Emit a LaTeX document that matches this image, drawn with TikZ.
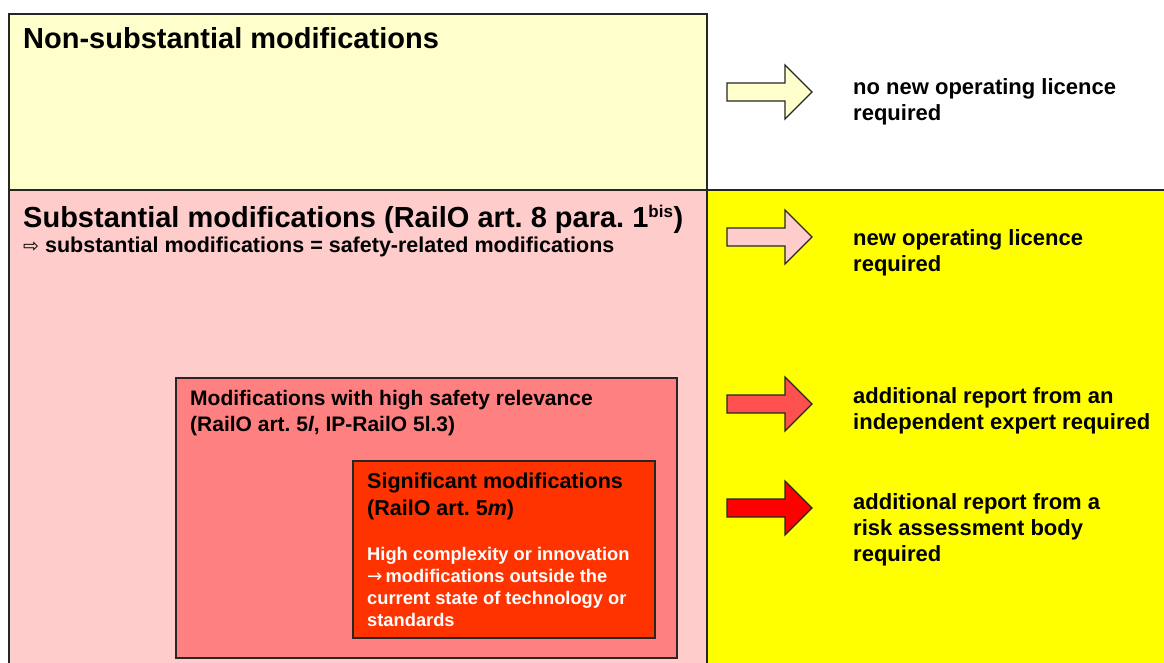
\documentclass[tikz,border=0pt]{standalone}
\usepackage{fontspec}
\setmainfont{Liberation Sans}
\newfontfamily\arrowfont{DejaVu Sans}
\usepackage{xcolor}
\usepackage{tikz}

\definecolor{paleyellow}{HTML}{FFFFCC}
\definecolor{palepink}{HTML}{FFCCCC}
\definecolor{midred}{HTML}{FF8080}
\definecolor{deepred}{HTML}{FF3300}
\definecolor{brightyellow}{HTML}{FFFF00}
\definecolor{arrowred}{HTML}{FF5050}

\begin{document}
\begin{tikzpicture}[x=1pt,y=-1pt]
		\tikzset{frame/.style={draw=black!85, line width=1.5pt}};
		\tikzset{fatarrow/.style={draw=black!85, line width=1.2pt}};
		\tikzset{reqtext/.style={anchor=base west, inner sep=0pt, align=left, font=\bfseries\fontsize{22}{26}\selectfont}};
		\useasboundingbox (0,0) rectangle (1164,662);
		\clip (0,0) rectangle (1164,662);
		\fill[white] (0,0) rectangle (1164,662);
		\filldraw[frame, fill=brightyellow] (707,190) rectangle (1175,675);
		\filldraw[frame, fill=paleyellow] (9,14) rectangle (707,190);
		\filldraw[frame, fill=palepink] (9,190) rectangle (707,675);
		\filldraw[frame, fill=midred] (176,378) rectangle (677,658);
		\filldraw[frame, fill=deepred] (353,461) rectangle (655,638);
		
		\filldraw[fatarrow, fill=paleyellow] (727,83) -- ++(58,0) -- ++(0,-18) -- ++(27,27) -- ++(-27,27) -- ++(0,-18) -- ++(-58,0) -- cycle;
		\filldraw[fatarrow, fill=palepink] (727,228) -- ++(58,0) -- ++(0,-18) -- ++(27,27) -- ++(-27,27) -- ++(0,-18) -- ++(-58,0) -- cycle;
		\filldraw[fatarrow, fill=arrowred] (727,395) -- ++(58,0) -- ++(0,-18) -- ++(27,27) -- ++(-27,27) -- ++(0,-18) -- ++(-58,0) -- cycle;
		\filldraw[fatarrow, fill=red] (727,499) -- ++(58,0) -- ++(0,-18) -- ++(27,27) -- ++(-27,27) -- ++(0,-18) -- ++(-58,0) -- cycle;
		
		% base of a node with several lines is its last line
		\draw[] (23,48) node[anchor=base west, inner sep=0pt, font=\bfseries\fontsize{29}{34}\selectfont] (nonsub) {Non-substantial modifications};
		\draw[] (23,227) node[anchor=base west, inner sep=0pt, font=\bfseries\fontsize{29}{34}\selectfont] (sub) {Substantial modifications (RailO art.~8 para.~1\textsuperscript{\fontsize{17}{20}\selectfont bis})};
		\draw[] (23,252) node[anchor=base west, inner sep=0pt, font=\bfseries\fontsize{21.5}{26}\selectfont] (subeq) {{\arrowfont\mdseries\fontsize{19}{22}\selectfont ⇨} substantial modifications = safety-related modifications};
		
		\draw[] (190,431) node[anchor=base west, inner sep=0pt, align=left, font=\bfseries\fontsize{21}{26}\selectfont] (high) {Modifications with high safety relevance\\(RailO art.~5\textit{l}, IP-RailO 5l.3)};
		\draw[] (367,515) node[anchor=base west, inner sep=0pt, align=left, font=\bfseries\fontsize{21.5}{27}\selectfont] (signif) {Significant modifications\\(RailO art.~5\textit{m})};
		\draw[] (367,626) node[anchor=base west, inner sep=0pt, align=left, white, font=\bfseries\fontsize{18.3}{22}\selectfont] (innov) {High complexity or innovation\\{\arrowfont\mdseries →}\,modifications outside the\\current state of technology or\\standards};
		
		\draw[] (853,120) node[reqtext] (nolic) {no new operating licence\\required};
		\draw[] (853,271) node[reqtext] (newlic) {new operating licence\\required};
		\draw[] (853,429) node[reqtext] (expert) {additional report from an\\independent expert required};
		\draw[] (853,561) node[reqtext] (riskbody) {additional report from a\\risk assessment body\\required};
			
	\end{tikzpicture}
\end{document}
